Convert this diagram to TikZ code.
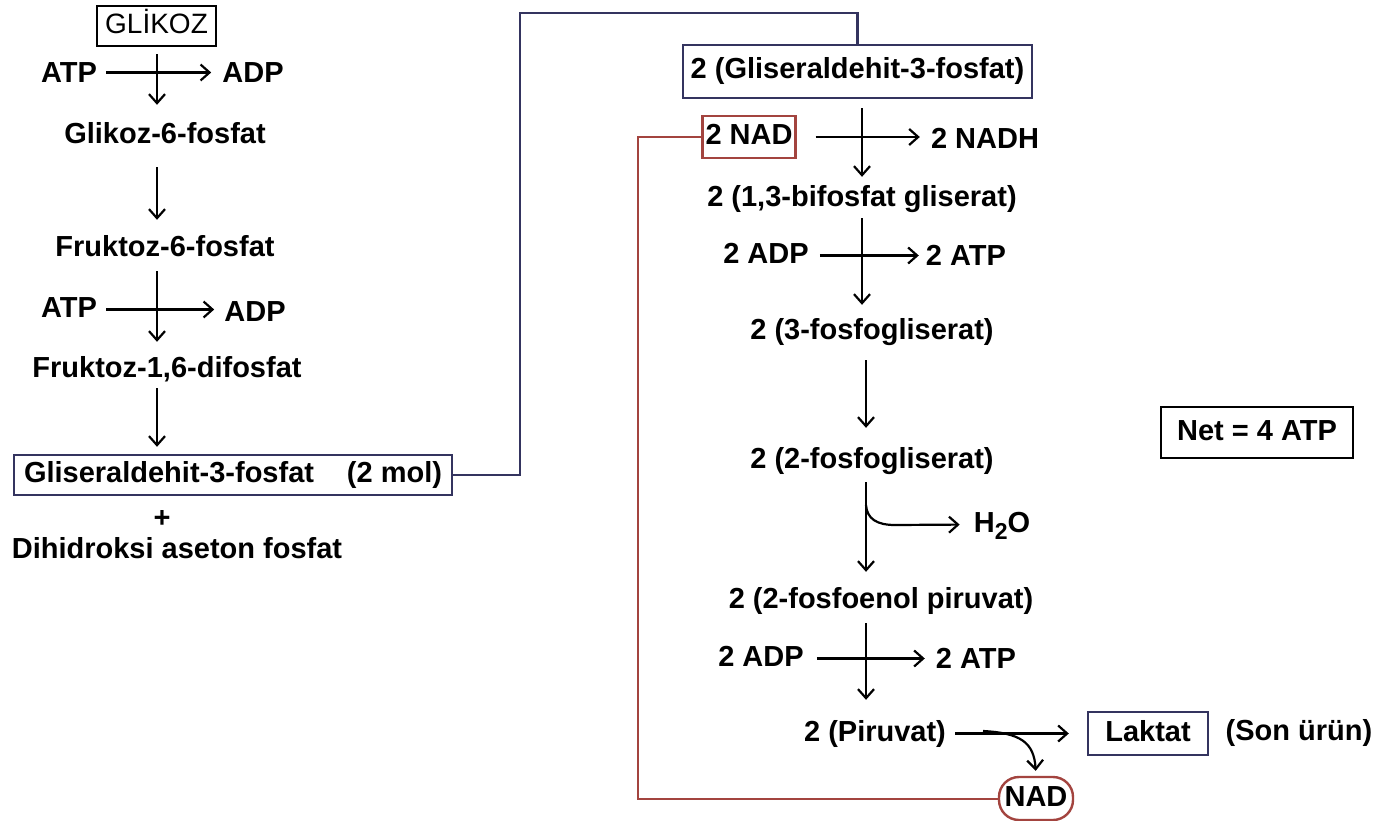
\documentclass[tikz,border=0pt]{standalone}
\usepackage{fontspec}
\setmainfont{Liberation Sans}
\usetikzlibrary{arrows.meta}
\definecolor{navy}{HTML}{34345F}
\definecolor{brick}{HTML}{A3443F}
\begin{document}
\begin{tikzpicture}[x=1pt,y=-1pt,
  lbl/.style={font=\fontsize{29}{31}\selectfont\bfseries, inner sep=0pt, text height=21pt, text depth=6pt, yshift=-2.5pt},
  boxed/.style={draw, line width=2.4pt, inner sep=0pt, font=\fontsize{29}{31}\selectfont\bfseries, text height=21pt, text depth=6pt},
  arr/.style={-{Straight Barb[length=9pt,width=16pt,line width=2.2pt]}, line width=2.2pt},
  conn/.style={line width=2.4pt}]
\useasboundingbox (0,0) rectangle (1375,821);
\fill[white] (0,0) rectangle (1375,821);

% axes
\coordinate (axL) at (157,0);
\coordinate (axR) at (862,0);
\coordinate (axR2) at (866,0);

% left column
\node[boxed, font=\fontsize{28}{30}\selectfont, minimum width=119pt, minimum height=40pt] (glikoz) at (156.5,26) {GLİKOZ};
\node[lbl] (atp1) at (69,73) {ATP};
\node[lbl] (adp1) at (253,73) {ADP};
\node[lbl] (g6p) at (165,134) {Glikoz-6-fosfat};
\node[lbl] (f6p) at (165,246) {Fruktoz-6-fosfat};
\node[lbl] (atp2) at (69,307) {ATP};
\node[lbl] (adp2) at (255,311) {ADP};
\node[lbl] (f16) at (167,367) {Fruktoz-1,6-difosfat};
\node[boxed, draw=navy, minimum width=438pt, minimum height=40pt] (gbox) at (233,475)
  {\makebox[418pt]{Gliseraldehit-3-fosfat\hfill(2 mol)}};
\node[lbl] (plus) at (162,517) {+};
\node[lbl] (dap) at (177,548) {Dihidroksi aseton fosfat};

% right column
\node[boxed, draw=navy, minimum width=349pt, minimum height=53pt] (gbox2) at (857.5,71.5) {2 (Gliseraldehit-3-fosfat)};
\node[boxed, draw=brick, minimum width=93pt, minimum height=42pt] (nad2) at (749,137) {2 NAD};
\node[lbl] (nadh) at (985,139) {2 NADH};
\node[lbl] (bpg) at (862,197) {2 (1,3-bifosfat gliserat)};
\node[lbl] (adp3) at (766,253) {2 ADP};
\node[lbl] (atp3) at (966,255) {2 ATP};
\node[lbl] (pg3) at (872,329) {2 (3-fosfogliserat)};
\node[lbl] (pg2) at (872,458) {2 (2-fosfogliserat)};
\node[lbl] (h2o) at (1002,522) {H\raisebox{-7pt}{\fontsize{23}{23}\selectfont 2}O};
\node[lbl] (pep) at (881,598) {2 (2-fosfoenol piruvat)};
\node[lbl] (adp4) at (761,656) {2 ADP};
\node[lbl] (atp4) at (976,658) {2 ATP};
\node[lbl] (pir) at (875,731) {2 (Piruvat)};
\node[boxed, draw=navy, minimum width=120pt, minimum height=43pt] (laktat) at (1148,733.5) {Laktat};
\node[lbl] (son) at (1299,730) {(Son ürün)};
\node[boxed, draw=brick, rounded corners=20pt, minimum width=74pt, minimum height=43pt] (nadell) at (1036,798.5) {NAD};
\node[boxed, minimum width=192pt, minimum height=51pt] (net) at (1257,432.5) {Net = 4 ATP};

% long connectors
\coordinate (bendB) at (520,13);
\draw[conn, navy] (gbox.east) -| (bendB) -| (gbox2.north);
\coordinate (bendR) at (638,798.5);
\draw[conn, brick, line width=2pt] (nad2.west) -| (bendR) -- (nadell.west);

% left arrows
\draw[arr, shorten <=7pt, shorten >=18pt] (glikoz.south -| axL) -- (g6p.north -| axL);
\draw[arr, shorten <=9pt, shorten >=11pt] ([yshift=3pt]atp1.east) -- ([yshift=3pt]adp1.west);
\draw[arr, shorten <=17pt, shorten >=15pt] (g6p.south -| axL) -- (f6p.north -| axL);
\draw[arr, shorten <=9pt, shorten >=14pt] (f6p.south -| axL) -- (f16.north -| axL);
\draw[arr, shorten <=9pt, shorten >=10pt] (atp2.east) -- (atp2.east -| adp2.west);
\draw[arr, shorten <=5pt, shorten >=7pt] (f16.south -| axL) -- (gbox.north -| axL);

% right arrows
\draw[arr, shorten <=9pt, shorten >=9pt] (gbox2.south -| axR) -- (bpg.north -| axR);
\draw[arr, shorten <=19pt, shorten >=11pt] (nad2.east) -- (nad2.east -| nadh.west);
\draw[arr, shorten <=5pt, shorten >=13pt] (bpg.south -| axR) -- (pg3.north -| axR);
\draw[arr, shorten <=11pt, shorten >=7pt] (adp3.east) -- (adp3.east -| atp3.west);
\draw[arr, shorten <=15pt, shorten >=19pt] (pg3.south -| axR2) -- (pg2.north -| axR2);
\draw[arr, shorten <=8pt, shorten >=15pt] (pg2.south -| axR2) -- (pep.north -| axR2);
\coordinate (br1) at (866,505);
\draw[arr, shorten >=14pt] (br1) .. controls (867,519) and (877,525) .. (895,525) -- (h2o.west);
\draw[arr, shorten <=9pt, shorten >=20pt] (pep.south -| axR2) -- (pir.north -| axR2);
\draw[arr, shorten <=13pt, shorten >=11pt] (adp4.east) -- (adp4.east -| atp4.west);
\draw[arr, shorten <=9pt, shorten >=18pt] (pir.east) -- (laktat.west);
\coordinate (br2) at (983,731);
\draw[arr, shorten >=5pt] (br2) .. controls (1020,733) and (1034,742) .. (nadell.north);
\end{tikzpicture}
\end{document}
